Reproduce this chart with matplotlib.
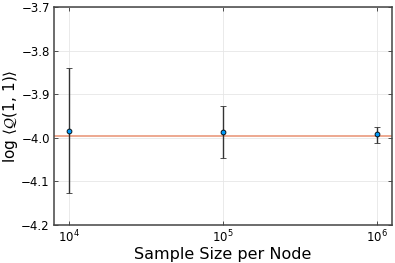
import numpy as np
import matplotlib.pyplot as plt

# sample sizes and measured log <Q(1,1)>
sample_size = [1e4, 1e5, 1e6]
log_q = [-3.9835, -3.987, -3.991]
err_low = [0.1435, 0.059, 0.021]
err_high = [0.1435, 0.060, 0.016]
reference_value = -3.9957

plt.rcParams['mathtext.fontset'] = 'dejavusans'

fig = plt.figure(figsize=(3.95, 2.63), dpi=100)
ax = fig.add_axes([54 / 395, 38 / 263, 338 / 395, 218 / 263])

ax.axhline(reference_value, color="#e26f46", alpha=0.7, lw=1.2, zorder=1)
ax.errorbar(sample_size, log_q, yerr=[err_low, err_high], fmt="o",
            color="#009afa", markersize=3.5, markeredgecolor="black",
            markeredgewidth=0.6, ecolor="#333333", elinewidth=1.0,
            capsize=2, capthick=1.0, zorder=3)

ax.set_xscale("log")
ax.set_xlim(10 ** 3.903, 10 ** 6.097)
ax.set_ylim(-4.2, -3.7)
ax.set_yticks(np.arange(-4.2, -3.65, 0.1))
ax.set_xticks(sample_size)
ax.minorticks_off()
ax.grid(True, color="#e6e6e6", lw=0.6)
ax.set_axisbelow(True)

ax.tick_params(direction="in", length=3, width=0.6, color="#333333",
               labelsize=8.5, top=True, right=True, pad=3)
for s in ax.spines.values():
    s.set_color("#444444")
    s.set_linewidth(1.1)

ax.set_xlabel("Sample Size per Node", fontsize=11.5, labelpad=1)
ax.set_ylabel(r"log $\langle\mathcal{Q}(1,\,1)\rangle$", fontsize=11, labelpad=1)

fig.savefig("out.png", dpi=100)
